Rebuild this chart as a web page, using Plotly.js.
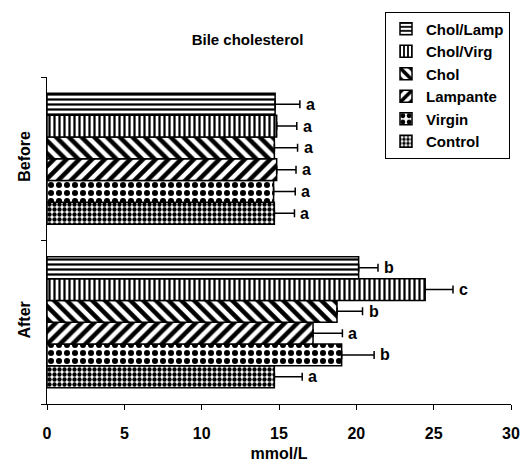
<!DOCTYPE html>
<html>
<head>
<meta charset="utf-8">
<script src="https://cdn.plot.ly/plotly-3.0.1.min.js"></script>
<style>html,body{margin:0;padding:0;background:#fff;}#chart{width:530px;height:472px;}</style>
</head>
<body>
<div id="chart"></div>
<script>
// Categories (data order) and display order bottom -> top
const categories = ['Before', 'After'];
const categoryOrder = ['After', 'Before'];

// Series listed bottom -> top within each group
const seriesNames = ['Control', 'Virgin', 'Lampante', 'Chol', 'Chol/Virg', 'Chol/Lamp'];

const controlVals   = [14.7, 14.7];
const virginVals    = [14.65, 19.05];
const lampanteVals  = [14.85, 17.2];
const cholVals      = [14.7, 18.75];
const cholVirgVals  = [14.85, 24.45];
const cholLampVals  = [14.75, 20.15];

const controlErr    = [1.3, 1.8];
const virginErr     = [1.4, 2.1];
const lampanteErr   = [1.25, 1.9];
const cholErr       = [1.5, 1.65];
const cholVirgErr   = [1.3, 1.8];
const cholLampErr   = [1.6, 1.25];

const controlLetters  = ['a', 'a'];
const virginLetters   = ['a', 'b'];
const lampanteLetters = ['a', 'a'];
const cholLetters     = ['a', 'b'];
const cholVirgLetters = ['a', 'c'];
const cholLampLetters = ['a', 'b'];

const xTickVals = [0, 5, 10, 15, 20, 25, 30];

const values  = [controlVals, virginVals, lampanteVals, cholVals, cholVirgVals, cholLampVals];
const errors  = [controlErr, virginErr, lampanteErr, cholErr, cholVirgErr, cholLampErr];
const letters = [controlLetters, virginLetters, lampanteLetters, cholLetters, cholVirgLetters, cholLampLetters];

const patterns = [
  {shape: '.', size: 5, solidity: 0.6},
  {shape: '.', size: 8, solidity: 0.45},
  {shape: '/', size: 9, solidity: 0.5},
  {shape: '\\', size: 9, solidity: 0.5},
  {shape: '|', size: 5, solidity: 0.45},
  {shape: '-', size: 5, solidity: 0.45}
];

const bargap = 0.2;
const nSeries = seriesNames.length;
const slot = (1 - bargap) / nSeries;

const traces = seriesNames.map((name, i) => ({
  type: 'bar',
  orientation: 'h',
  name: name,
  y: categories,
  x: values[i],
  marker: {
    color: '#ffffff',
    line: {color: '#000000', width: 1.5},
    pattern: Object.assign({fgcolor: '#000000', bgcolor: '#ffffff', fillmode: 'replace'}, patterns[i])
  },
  error_x: {
    type: 'data', symmetric: false,
    array: errors[i], arrayminus: errors[i].map(() => 0),
    color: '#000000', thickness: 1.5, width: 4
  },
  hoverinfo: 'skip'
}));

const annotations = [];
seriesNames.forEach((name, i) => {
  categories.forEach((cat, j) => {
    annotations.push({
      xref: 'x', yref: 'y',
      x: values[i][j] + errors[i][j],
      y: categoryOrder.indexOf(cat) + (i - (nSeries - 1) / 2) * slot,
      text: letters[i][j],
      showarrow: false,
      xanchor: 'left', yanchor: 'middle', xshift: 4,
      font: {family: 'Liberation Sans, Arial, sans-serif', size: 16, color: '#000', weight: 'bold'}
    });
  });
});

const layout = {
  width: 530, height: 472,
  margin: {l: 47, r: 19, t: 74, b: 68},
  paper_bgcolor: '#ffffff', plot_bgcolor: '#ffffff',
  barmode: 'group', bargap: bargap, bargroupgap: 0,
  font: {family: 'Liberation Sans, Arial, sans-serif', color: '#000'},
  title: {
    text: 'Bile cholesterol',
    xref: 'container', x: 0.467, xanchor: 'center',
    yref: 'container', y: 1 - 40 / 472, yanchor: 'middle',
    font: {size: 15, weight: 'bold', color: '#000'}
  },
  xaxis: {
    range: [0, 30], tickvals: xTickVals,
    showgrid: false, zeroline: false,
    showline: true, linecolor: '#000', linewidth: 1,
    ticks: 'outside', ticklen: 5, tickcolor: '#000',
    ticklabelstandoff: 10,
    tickfont: {size: 16, weight: 'bold'},
    title: {text: 'mmol/L', font: {size: 16, weight: 'bold'}, standoff: 6}
  },
  yaxis: {
    type: 'category', categoryorder: 'array', categoryarray: categoryOrder,
    range: [-0.5, 1.5],
    showgrid: false, zeroline: false,
    showline: true, linecolor: '#000', linewidth: 1,
    ticks: 'outside', ticklen: 5, tickcolor: '#000', tickson: 'boundaries',
    tickangle: -90, ticklabelstandoff: 10,
    tickfont: {size: 16, weight: 'bold'}
  },
  legend: {
    traceorder: 'reversed',
    x: (385 - 47) / 464, xanchor: 'left',
    y: (404 - 8) / 330, yanchor: 'top',
    bgcolor: '#ffffff', bordercolor: '#000', borderwidth: 1,
    font: {size: 15, weight: 'bold'},
    itemwidth: 30, tracegroupgap: 0
  },
  annotations: annotations,
  showlegend: true
};

Plotly.newPlot('chart', traces, layout, {staticPlot: true, displayModeBar: false});
</script>
</body>
</html>
